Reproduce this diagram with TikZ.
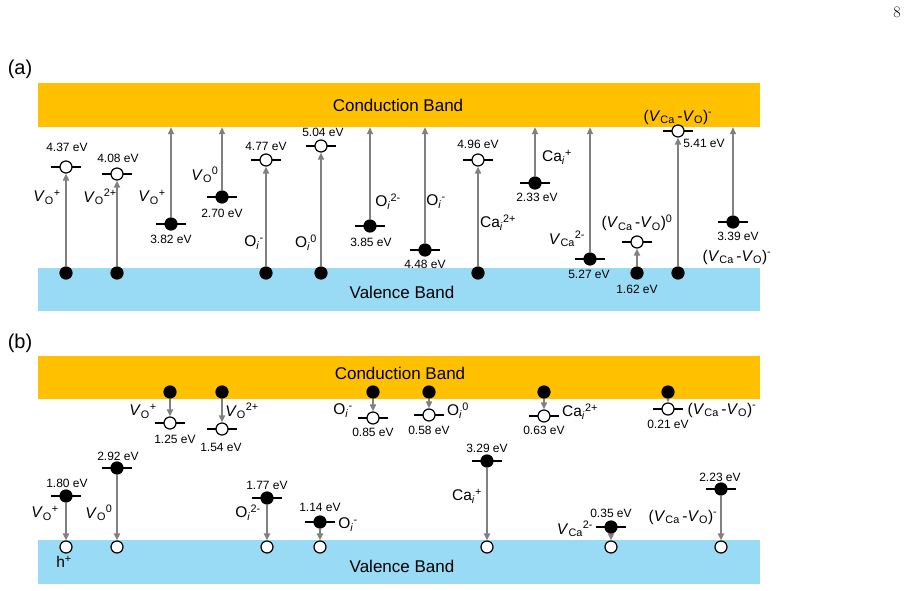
\documentclass[tikz,border=0pt]{standalone}
\usepackage{fontspec}
\setsansfont{Liberation Sans}
\usepackage{xcolor}
\usepackage{tikz}
\usetikzlibrary{arrows, arrows.meta}
\pgfdeclarelayer{bg}
\pgfsetlayers{bg,main}
\definecolor{cbgold}{RGB}{255,192,0}
\definecolor{vbblue}{RGB}{153,218,245}
\definecolor{jumpgray}{RGB}{128,128,128}
\newcommand{\vac}[2]{\textit{V}\textsubscript{#1}\textsuperscript{#2}}
\newcommand{\intl}[2]{#1\textsubscript{\textit{i}}\textsuperscript{#2}}
\newcommand{\cplx}[1]{(\textit{V}\textsubscript{Ca}\,-\textit{V}\textsubscript{O})\textsuperscript{#1}}
\tikzset{
	elec/.style={circle, draw=black, fill=black, line width=1.2pt, minimum size=12pt, inner sep=0pt},
	hole/.style={circle, draw=black, fill=white, line width=1.2pt, minimum size=12pt, inner sep=0pt},
	bandbox/.style={rectangle, draw=none, inner sep=0pt, minimum width=722pt},
	lvlbar/.style={line width=2pt, black},
	jump/.style={draw=jumpgray, line width=2pt, -{Triangle[length=7pt,width=6pt]}},
	ev/.style={font=\sffamily\fontsize{12}{14}\selectfont, inner sep=0pt},
	spec/.style={font=\sffamily\fontsize{15.5}{18}\selectfont, inner sep=0pt},
	bandtxt/.style={font=\sffamily\fontsize{17}{20}\selectfont, inner sep=0pt},
	tag/.style={font=\sffamily\fontsize{20}{24}\selectfont, inner sep=0pt},
}

\begin{document}
\begin{tikzpicture}[x=1pt, y=-1pt]
			\useasboundingbox (0,0) rectangle (911,590);
			\node[font=\rmfamily\fontsize{16}{18}\selectfont, inner sep=0pt] (pageno) at (897,12) {8};
			% panel (a)
			\node[tag] (taga) at (20,69) {(a)};
			\node[bandbox, fill=cbgold, minimum height=44pt] (cbA) at (399,105) {};
			\node[bandbox, fill=vbblue, minimum height=43pt] (vbA) at (399,289.5) {};
			\node[bandtxt] (cbAtxt) at (398,105) {Conduction Band};
			\node[bandtxt] (vbAtxt) at (402,292) {Valence Band};

			\node[hole] (a1h) at (66,167) {};
			\node[elec] (a1v) at (66,273) {};
			\node[ev] (a1ev) at (67,147) {4.37 eV};
			\node[spec] (a1sp) at (47,197) {\vac{O}{+}};

			\node[hole] (a2h) at (117,174) {};
			\node[elec] (a2v) at (117,273) {};
			\node[ev] (a2ev) at (118,158) {4.08 eV};
			\node[spec] (a2sp) at (100,197) {\vac{O}{2+}};

			\node[elec] (a3e) at (171,224) {};
			\node[ev] (a3ev) at (171,239) {3.82 eV};
			\node[spec] (a3sp) at (152,197) {\vac{O}{+}};

			\node[elec] (a4e) at (222,197) {};
			\node[ev] (a4ev) at (222,213) {2.70 eV};
			\node[spec] (a4sp) at (205,175) {\vac{O}{0}};

			\node[hole] (a5h) at (266,160) {};
			\node[elec] (a5v) at (266,273) {};
			\node[ev] (a5ev) at (266,146) {4.77 eV};
			\node[spec] (a5sp) at (254,243) {\intl{O}{-}};

			\node[hole] (a6h) at (321,146) {};
			\node[elec] (a6v) at (321,273) {};
			\node[ev] (a6ev) at (323,132) {5.04 eV};
			\node[spec] (a6sp) at (306,243) {\intl{O}{0}};

			\node[elec] (a7e) at (370,226) {};
			\node[ev] (a7ev) at (371,242) {3.85 eV};
			\node[spec] (a7sp) at (388,202) {\intl{O}{2-}};

			\node[elec] (a8e) at (425,250) {};
			\node[ev] (a8ev) at (425,264) {4.48 eV};
			\node[spec] (a8sp) at (436,202) {\intl{O}{-}};

			\node[hole] (a9h) at (478,160) {};
			\node[elec] (a9v) at (478,273) {};
			\node[ev] (a9ev) at (478,144) {4.96 eV};
			\node[spec] (a9sp) at (498,223) {\intl{Ca}{2+}};

			\node[elec] (a10e) at (535,183) {};
			\node[ev] (a10ev) at (537,197) {2.33 eV};
			\node[spec] (a10sp) at (557,157) {\intl{Ca}{+}};

			\node[elec] (a11e) at (590,259) {};
			\node[ev] (a11ev) at (589,274) {5.27 eV};
			\node[spec] (a11sp) at (567,239) {\vac{Ca}{2-}};

			\node[hole] (a12h) at (637,242) {};
			\node[elec] (a12v) at (637,273) {};
			\node[ev] (a12ev) at (637,289) {1.62 eV};
			\node[spec] (a12sp) at (637,223) {\cplx{0}};

			\node[hole] (a13h) at (678,131) {};
			\node[elec] (a13v) at (678,273) {};
			\node[ev] (a13ev) at (704,143) {5.41 eV};
			\node[spec] (a13sp) at (678,117) {\cplx{-}};

			\node[elec] (a14e) at (733,222) {};
			\node[ev] (a14ev) at (738,236) {3.39 eV};
			\node[spec] (a14sp) at (737,257) {\cplx{-}};

			% panel (b)
			\node[tag] (tagb) at (20,343) {(b)};
			\node[bandbox, fill=cbgold, minimum height=43pt] (cbB) at (399,377.5) {};
			\node[bandbox, fill=vbblue, minimum height=44pt] (vbB) at (399,562) {};
			\node[bandtxt] (cbBtxt) at (400,373) {Conduction Band};
			\node[bandtxt] (vbBtxt) at (402,566) {Valence Band};

			\node[elec] (b1e) at (170,392) {};
			\node[hole] (b1h) at (170,423) {};
			\node[ev] (b1ev) at (175,439) {1.25 eV};
			\node[spec] (b1sp) at (143,411) {\vac{O}{+}};

			\node[elec] (b2e) at (222,392) {};
			\node[hole] (b2h) at (222,429) {};
			\node[ev] (b2ev) at (221,447) {1.54 eV};
			\node[spec] (b2sp) at (242,411) {\vac{O}{2+}};

			\node[elec] (b3e) at (373,392) {};
			\node[hole] (b3h) at (373,418) {};
			\node[ev] (b3ev) at (373,432) {0.85 eV};
			\node[spec] (b3sp) at (343,411) {\intl{O}{-}};

			\node[elec] (b4e) at (429,392) {};
			\node[hole] (b4h) at (429,415) {};
			\node[ev] (b4ev) at (429,430) {0.58 eV};
			\node[spec] (b4sp) at (458,411) {\intl{O}{0}};

			\node[elec] (b5e) at (544,392) {};
			\node[hole] (b5h) at (544,416) {};
			\node[ev] (b5ev) at (544,430) {0.63 eV};
			\node[spec] (b5sp) at (580,412) {\intl{Ca}{2+}};

			\node[elec] (b6e) at (668,392) {};
			\node[hole] (b6h) at (668,409) {};
			\node[ev] (b6ev) at (668,424) {0.21 eV};
			\node[spec] (b6sp) at (722,410) {\cplx{-}};

			\node[elec] (b7e) at (66,496) {};
			\node[hole] (b7h) at (66,547) {};
			\node[ev] (b7ev) at (67,483) {1.80 eV};
			\node[spec] (b7sp) at (45,513) {\vac{O}{+}};
			\node[spec] (b7hp) at (64,562) {h\textsuperscript{+}};

			\node[elec] (b8e) at (117,468) {};
			\node[hole] (b8h) at (117,547) {};
			\node[ev] (b8ev) at (118,456) {2.92 eV};
			\node[spec] (b8sp) at (99,513) {\vac{O}{0}};

			\node[elec] (b9e) at (267,498) {};
			\node[hole] (b9h) at (267,547) {};
			\node[ev] (b9ev) at (267,485) {1.77 eV};
			\node[spec] (b9sp) at (248,513) {\intl{O}{2-}};

			\node[elec] (b10e) at (320,522) {};
			\node[hole] (b10h) at (320,547) {};
			\node[ev] (b10ev) at (320,507) {1.14 eV};
			\node[spec] (b10sp) at (348,525) {\intl{O}{-}};

			\node[elec] (b11e) at (487,461) {};
			\node[hole] (b11h) at (487,547) {};
			\node[ev] (b11ev) at (487,448) {3.29 eV};
			\node[spec] (b11sp) at (467,496) {\intl{Ca}{+}};

			\node[elec] (b12e) at (611,527) {};
			\node[hole] (b12h) at (611,547) {};
			\node[ev] (b12ev) at (611,513) {0.35 eV};
			\node[spec] (b12sp) at (575,529) {\vac{Ca}{2-}};

			\node[elec] (b13e) at (721,489) {};
			\node[hole] (b13h) at (721,547) {};
			\node[ev] (b13ev) at (720,477) {2.23 eV};
			\node[spec] (b13sp) at (683,517) {\cplx{-}};

			\begin{pgfonlayer}{bg}
				% level bars
				\draw[lvlbar] ([xshift=-15pt]a1h.center) -- ([xshift=15pt]a1h.center);
				\draw[lvlbar] ([xshift=-15pt]a2h.center) -- ([xshift=15pt]a2h.center);
				\draw[lvlbar] ([xshift=-15pt]a3e.center) -- ([xshift=15pt]a3e.center);
				\draw[lvlbar] ([xshift=-15pt]a4e.center) -- ([xshift=15pt]a4e.center);
				\draw[lvlbar] ([xshift=-15pt]a5h.center) -- ([xshift=15pt]a5h.center);
				\draw[lvlbar] ([xshift=-15pt]a6h.center) -- ([xshift=15pt]a6h.center);
				\draw[lvlbar] ([xshift=-15pt]a7e.center) -- ([xshift=15pt]a7e.center);
				\draw[lvlbar] ([xshift=-15pt]a8e.center) -- ([xshift=15pt]a8e.center);
				\draw[lvlbar] ([xshift=-15pt]a9h.center) -- ([xshift=15pt]a9h.center);
				\draw[lvlbar] ([xshift=-15pt]a10e.center) -- ([xshift=15pt]a10e.center);
				\draw[lvlbar] ([xshift=-15pt]a11e.center) -- ([xshift=15pt]a11e.center);
				\draw[lvlbar] ([xshift=-15pt]a12h.center) -- ([xshift=15pt]a12h.center);
				\draw[lvlbar] ([xshift=-15pt]a13h.center) -- ([xshift=15pt]a13h.center);
				\draw[lvlbar] ([xshift=-15pt]a14e.center) -- ([xshift=15pt]a14e.center);
				\draw[lvlbar] ([xshift=-15pt]b1h.center) -- ([xshift=15pt]b1h.center);
				\draw[lvlbar] ([xshift=-15pt]b2h.center) -- ([xshift=15pt]b2h.center);
				\draw[lvlbar] ([xshift=-15pt]b3h.center) -- ([xshift=15pt]b3h.center);
				\draw[lvlbar] ([xshift=-15pt]b4h.center) -- ([xshift=15pt]b4h.center);
				\draw[lvlbar] ([xshift=-15pt]b5h.center) -- ([xshift=15pt]b5h.center);
				\draw[lvlbar] ([xshift=-15pt]b6h.center) -- ([xshift=15pt]b6h.center);
				\draw[lvlbar] ([xshift=-15pt]b7e.center) -- ([xshift=15pt]b7e.center);
				\draw[lvlbar] ([xshift=-15pt]b8e.center) -- ([xshift=15pt]b8e.center);
				\draw[lvlbar] ([xshift=-15pt]b9e.center) -- ([xshift=15pt]b9e.center);
				\draw[lvlbar] ([xshift=-15pt]b10e.center) -- ([xshift=15pt]b10e.center);
				\draw[lvlbar] ([xshift=-15pt]b11e.center) -- ([xshift=15pt]b11e.center);
				\draw[lvlbar] ([xshift=-15pt]b12e.center) -- ([xshift=15pt]b12e.center);
				\draw[lvlbar] ([xshift=-15pt]b13e.center) -- ([xshift=15pt]b13e.center);
				% transitions (a)
				\draw[jump] (a1v) -- (a1h);
				\draw[jump] (a2v) -- (a2h);
				\draw[jump] (a3e) -- (a3e |- cbA.south);
				\draw[jump] (a4e) -- (a4e |- cbA.south);
				\draw[jump] (a5v) -- (a5h);
				\draw[jump] (a6v) -- (a6h);
				\draw[jump] (a7e) -- (a7e |- cbA.south);
				\draw[jump] (a8e) -- (a8e |- cbA.south);
				\draw[jump] (a9v) -- (a9h);
				\draw[jump] (a10e) -- (a10e |- cbA.south);
				\draw[jump] (a11e) -- (a11e |- cbA.south);
				\draw[jump] (a12v) -- (a12h);
				\draw[jump] (a13v) -- (a13h);
				\draw[jump] (a14e) -- (a14e |- cbA.south);
				% transitions (b)
				\draw[jump] (b1e) -- (b1h);
				\draw[jump] (b2e) -- (b2h);
				\draw[jump] (b3e) -- (b3h);
				\draw[jump] (b4e) -- (b4h);
				\draw[jump] (b5e) -- (b5h);
				\draw[jump] (b6e) -- (b6h);
				\draw[jump] (b7e) -- (b7h);
				\draw[jump] (b8e) -- (b8h);
				\draw[jump] (b9e) -- (b9h);
				\draw[jump] (b10e) -- (b10h);
				\draw[jump] (b11e) -- (b11h);
				\draw[jump] (b12e) -- (b12h);
				\draw[jump] (b13e) -- (b13h);
			\end{pgfonlayer}

		\end{tikzpicture}
\end{document}
